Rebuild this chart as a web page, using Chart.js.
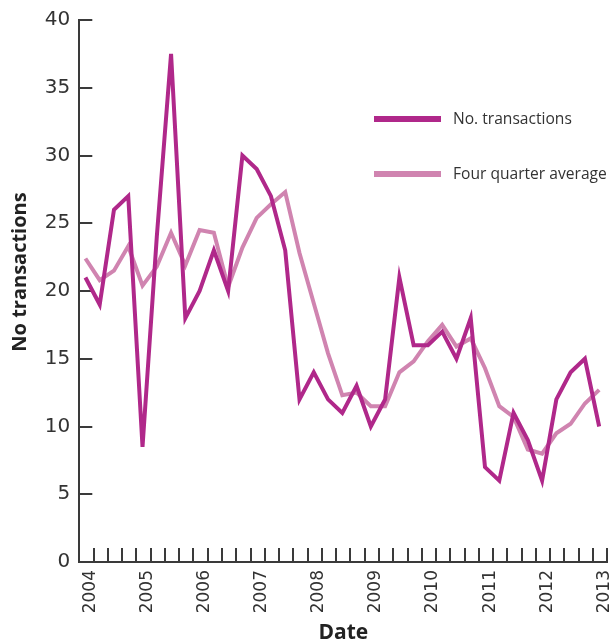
<!DOCTYPE html>
<html>
<head>
<meta charset="utf-8">
<script src="https://cdn.jsdelivr.net/npm/chart.js@4/dist/chart.umd.min.js"></script>
<style>
  html, body { margin: 0; padding: 0; background: #fff; }
  #wrap { width: 614px; height: 644px; }
</style>
</head>
<body>
<div id="wrap"><canvas id="chart"></canvas></div>
<script>
// Quarterly data, 2004 Q1 .. 2013 Q1
const firstYear = 2004;
const lastYear = 2013;
const seriesNames = ["No. transactions", "Four quarter average"];
const transactions = [21, 19, 26, 27, 8.5, 24, 37.5, 18, 20, 23, 20, 30, 29, 27, 23, 12, 14, 12, 11, 13,
  10, 12, 21, 16, 16, 17, 15, 18, 7, 6, 11, 9, 6, 12, 14, 15, 10];
const fourQuarterAvg = [22.4, 20.8, 21.5, 23.3, 20.4, 21.8, 24.3, 21.9, 24.5, 24.3, 20.3, 23.2, 25.4, 26.4,
  27.3, 22.8, 19.1, 15.4, 12.3, 12.5, 11.5, 11.5, 14.0, 14.8, 16.3, 17.5, 15.9, 16.5, 14.3, 11.5,
  10.7, 8.3, 8.0, 9.5, 10.2, 11.7, 12.7];
const yTickValues = [0, 5, 10, 15, 20, 25, 30, 35, 40];
const yTitle = "No transactions";

const axisColor = "#3a3a3a";
const textColor = "#333";
const colors = ["#b0288a", "#d084b0"];

// in the original the points sit a little before each quarter tick
const pointShift = 0.57;
const toXY = (arr) => arr.map((v, i) => ({ x: i - pointShift, y: v }));
const nQuarters = (lastYear - firstYear) * 4;

// short inward tick marks on both axes
const tickMarks = {
  id: "tickMarks",
  beforeDatasetsDraw(chart) {
    const ctx = chart.ctx;
    const xs = chart.scales.x, ys = chart.scales.y;
    ctx.save();
    ctx.strokeStyle = axisColor;
    ctx.lineWidth = 2;
    ctx.beginPath();
    yTickValues.forEach((v) => {
      const py = Math.round(ys.getPixelForValue(v));
      ctx.moveTo(xs.left, py);
      ctx.lineTo(xs.left + 13, py);
    });
    for (let q = 0; q <= nQuarters; q++) {
      const px = Math.round(xs.getPixelForValue(q));
      ctx.moveTo(px, ys.bottom);
      ctx.lineTo(px, ys.bottom - 14);
    }
    ctx.stroke();
    ctx.restore();
  }
};

// y title drawn by hand so it can sit a bit above the middle like the original
const sideTitle = {
  id: "sideTitle",
  afterDraw(chart) {
    const ctx = chart.ctx;
    ctx.save();
    ctx.translate(20, 272);
    ctx.rotate(-Math.PI / 2);
    ctx.fillStyle = "#222";
    ctx.font = "bold 20px 'Open Sans'";
    ctx.textAlign = "center";
    ctx.textBaseline = "middle";
    ctx.fillText(yTitle, 0, 0);
    ctx.restore();
  }
};

// legend drawn inside the plot area, to the right
const insideLegend = {
  id: "insideLegend",
  afterDraw(chart) {
    const ctx = chart.ctx;
    const rows = [119, 174];
    ctx.save();
    chart.data.datasets.forEach((ds, i) => {
      ctx.strokeStyle = ds.borderColor;
      ctx.lineWidth = 6;
      ctx.beginPath();
      ctx.moveTo(374, rows[i]);
      ctx.lineTo(441, rows[i]);
      ctx.stroke();
      ctx.fillStyle = textColor;
      ctx.font = "15.6px 'Open Sans'";
      ctx.textBaseline = "middle";
      ctx.fillText(ds.label, 453, rows[i] + 1);
    });
    ctx.restore();
  }
};

new Chart(document.getElementById("chart").getContext("2d"), {
  type: "line",
  data: {
    datasets: [
      {
        label: seriesNames[0],
        data: toXY(transactions),
        borderColor: colors[0],
        borderWidth: 4,
        pointRadius: 0,
        tension: 0,
        order: 1
      },
      {
        label: seriesNames[1],
        data: toXY(fourQuarterAvg),
        borderColor: colors[1],
        borderWidth: 4,
        pointRadius: 0,
        tension: 0,
        order: 2
      }
    ]
  },
  options: {
    responsive: true,
    maintainAspectRatio: false,
    animation: false,
    layout: { padding: { top: 20, right: 6.7, left: 0, bottom: 0 } },
    plugins: { legend: { display: false }, tooltip: { enabled: false } },
    scales: {
      x: {
        type: "linear",
        min: -1,
        max: nQuarters,
        grid: { display: false, drawTicks: false },
        border: { display: true, color: axisColor, width: 2 },
        afterBuildTicks: (scale) => {
          const t = [];
          for (let q = 0; q <= nQuarters; q += 4) t.push({ value: q });
          scale.ticks = t;
        },
        ticks: {
          autoSkip: false,
          minRotation: 90,
          maxRotation: 90,
          padding: 8,
          labelOffset: -3,
          color: textColor,
          font: { family: "'DejaVu Sans'", size: 17 },
          callback: (v) => String(firstYear + v / 4)
        },
        title: {
          display: true,
          text: "Date",
          color: "#222",
          font: { family: "'Open Sans'", size: 21, weight: "bold" },
          padding: { top: 0, bottom: -2 }
        },
        afterFit: (scale) => {
          scale.height = 82;
          scale.paddingLeft = 0;
          scale.paddingRight = 0;
        }
      },
      y: {
        min: 0,
        max: 40,
        grid: { display: false, drawTicks: false },
        border: { display: true, color: axisColor, width: 2 },
        afterBuildTicks: (scale) => {
          scale.ticks = yTickValues.map((v) => ({ value: v }));
        },
        ticks: {
          padding: 9,
          color: textColor,
          font: { family: "'DejaVu Sans'", size: 20 }
        },
        afterFit: (scale) => {
          scale.width = 79.3;
          scale.paddingTop = 0;
          scale.paddingBottom = 0;
        }
      }
    }
  },
  plugins: [tickMarks, sideTitle, insideLegend]
});
</script>
</body>
</html>
